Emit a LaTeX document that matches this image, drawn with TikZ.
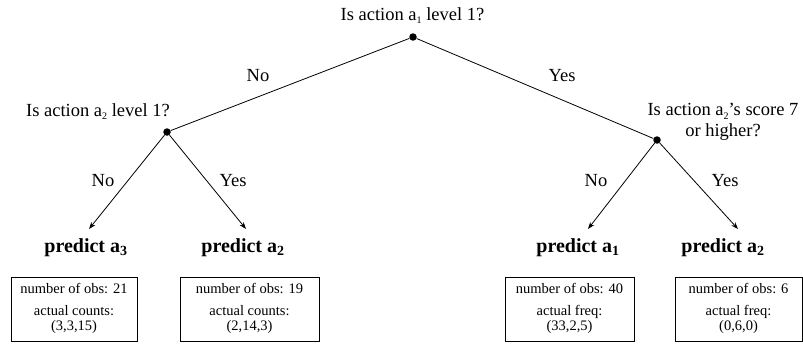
\documentclass[tikz,border=0pt]{standalone}
\usepackage{fontspec}
\setmainfont{Liberation Serif}
\usetikzlibrary{arrows.meta}
\newcommand{\mysub}[1]{\raisebox{-0.45ex}{\fontsize{10}{10}\selectfont #1}}
\begin{document}
\begin{tikzpicture}[x=1pt,y=-1pt,
  q/.style={font=\fontsize{18.5}{21}\selectfont, inner sep=0pt, align=center},
  br/.style={font=\fontsize{18.5}{19}\selectfont, inner sep=0pt, anchor=base},
  pred/.style={font=\fontsize{20}{22}\selectfont\bfseries, inner sep=0pt, anchor=base},
  leaf/.style={draw, line width=0.7pt, inner sep=0pt, minimum height=64pt},
  leaftxt/.style={font=\fontsize{14.5}{15.5}\selectfont, align=center, inner sep=0pt, anchor=north},
  dot/.style={circle, fill, inner sep=0pt, minimum size=7.5pt},
  edge/.style={line width=0.8pt},
  arr/.style={edge, -{Stealth[length=7pt,width=5pt]}}
]
\useasboundingbox (0,0) rectangle (803,343);
% split points
\node[dot] (r) at (413,37) {};
\node[dot] (l) at (167,132) {};
\node[dot] (rr) at (657,140) {};
% questions
\node[q, anchor=base] (qr) at (412.5,20) {Is action a\mysub{1} level 1?};
\node[q, anchor=base] (ql) at (98,116) {Is action a\mysub{2} level 1?};
\node[q, anchor=north] (qrr) at (723,103) {Is action a\mysub{2}’s score 7\\or higher?};
% edges
\draw[edge] (r) -- (l);
\draw[edge] (r) -- (rr);
\node[br] (no0) at (258,81) {No};
\node[br] (yes0) at (562,81) {Yes};
\coordinate (t1) at (89,229);
\coordinate (t2) at (246,229);
\coordinate (t3) at (588,229);
\coordinate (t4) at (738,229);
\draw[arr] (l) -- (t1);
\draw[arr] (l) -- (t2);
\draw[arr] (rr) -- (t3);
\draw[arr] (rr) -- (t4);
\node[br] (no1) at (103,186) {No};
\node[br] (yes1) at (233,186) {Yes};
\node[br] (no2) at (596,186) {No};
\node[br] (yes2) at (725,186) {Yes};
% predictions
\node[pred] (p1) at (86,252) {predict a\textsubscript{3}};
\node[pred] (p2) at (243,252) {predict a\textsubscript{2}};
\node[pred] (p3) at (578,252) {predict a\textsubscript{1}};
\node[pred] (p4) at (723,252) {predict a\textsubscript{2}};
% leaf boxes
\node[leaf, minimum width=126pt] (b1) at (74,309) {};
\node[leaf, minimum width=139pt] (b2) at (249.5,309) {};
\node[leaf, minimum width=129pt] (b3) at (569.5,309) {};
\node[leaf, minimum width=127pt] (b4) at (738.5,309) {};
\node[leaftxt] (x1) at (74,283) {number of obs: 21\\[6.5pt]actual counts:\\(3,3,15)};
\node[leaftxt] (x2) at (249.5,283) {number of obs: 19\\[6.5pt]actual counts:\\(2,14,3)};
\node[leaftxt] (x3) at (569.5,283) {number of obs: 40\\[6.5pt]actual freq:\\(33,2,5)};
\node[leaftxt] (x4) at (738.5,283) {number of obs: 6\\[6.5pt]actual freq:\\(0,6,0)};
\end{tikzpicture}
\end{document}
